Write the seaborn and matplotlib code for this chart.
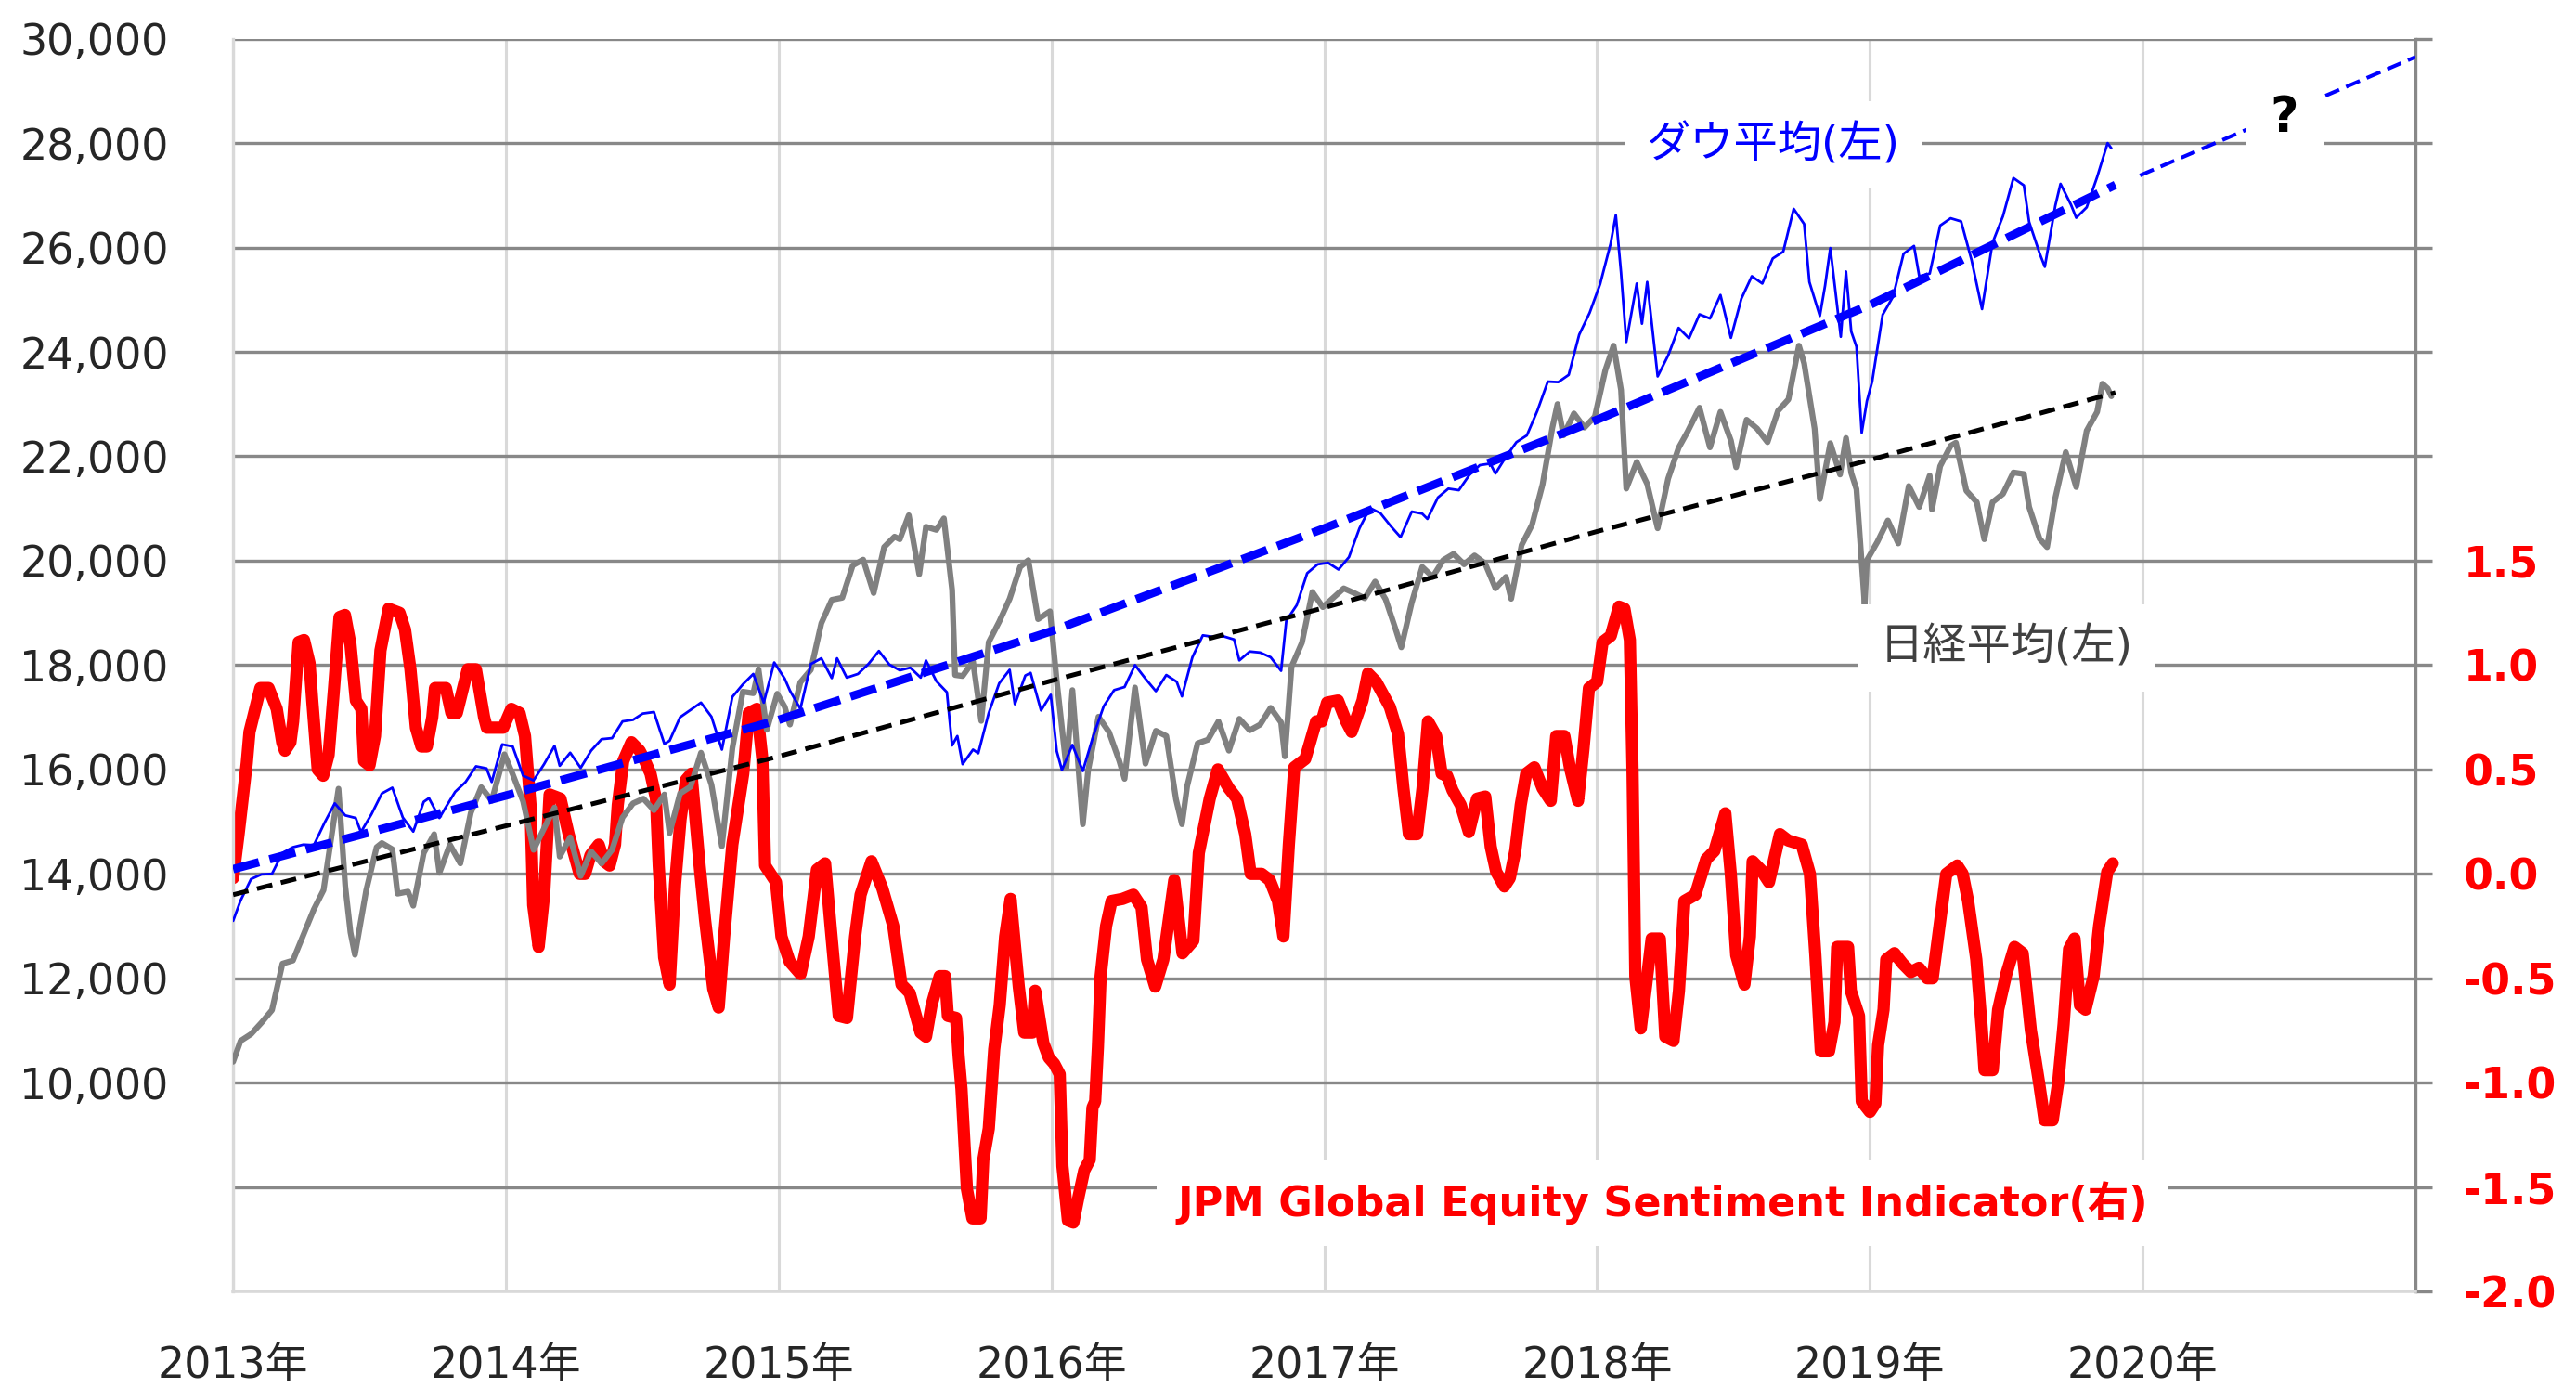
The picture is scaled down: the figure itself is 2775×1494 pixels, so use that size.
import numpy as np
import pandas as pd
import seaborn as sns
import matplotlib.pyplot as plt

sns.set_style("white")
plt.rcParams['font.family'] = ['DejaVu Sans', 'Noto Sans CJK JP']

# ダウ平均(左軸)
dow_dates = [
    "2013-01-01", "2013-01-11", "2013-01-25", "2013-02-08", "2013-02-22", "2013-03-08", "2013-03-22",
    "2013-04-05", "2013-04-19", "2013-05-03", "2013-05-17", "2013-05-31", "2013-06-14", "2013-06-21",
    "2013-07-05", "2013-07-19", "2013-08-02", "2013-08-16", "2013-08-30", "2013-09-13", "2013-09-20",
    "2013-10-04", "2013-10-11", "2013-10-25", "2013-11-08", "2013-11-22", "2013-12-06", "2013-12-13",
    "2013-12-27", "2014-01-10", "2014-01-24", "2014-02-07", "2014-02-21", "2014-03-07", "2014-03-14",
    "2014-03-28", "2014-04-11", "2014-04-25", "2014-05-09", "2014-05-23", "2014-06-06", "2014-06-20",
    "2014-07-03", "2014-07-18", "2014-08-01", "2014-08-08", "2014-08-22", "2014-09-05", "2014-09-19",
    "2014-10-03", "2014-10-17", "2014-10-31", "2014-11-14", "2014-11-28", "2014-12-12", "2014-12-26",
    "2015-01-09", "2015-01-16", "2015-01-30", "2015-02-13", "2015-02-27", "2015-03-13", "2015-03-20",
    "2015-04-02", "2015-04-17", "2015-05-01", "2015-05-15", "2015-05-29", "2015-06-12", "2015-06-26",
    "2015-07-10", "2015-07-17", "2015-07-31", "2015-08-14", "2015-08-21", "2015-08-28", "2015-09-04",
    "2015-09-18", "2015-09-25", "2015-10-09", "2015-10-23", "2015-11-06", "2015-11-13", "2015-11-27",
    "2015-12-04", "2015-12-18", "2015-12-31", "2016-01-08", "2016-01-15", "2016-01-29", "2016-02-12",
    "2016-02-26", "2016-03-11", "2016-03-25", "2016-04-08", "2016-04-22", "2016-05-06", "2016-05-20",
    "2016-06-03", "2016-06-17", "2016-06-24", "2016-07-08", "2016-07-22", "2016-08-05", "2016-08-19",
    "2016-09-02", "2016-09-09", "2016-09-23", "2016-10-07", "2016-10-21", "2016-11-04", "2016-11-11",
    "2016-11-25", "2016-12-09", "2016-12-23", "2017-01-06", "2017-01-20", "2017-02-03", "2017-02-17",
    "2017-03-03", "2017-03-17", "2017-03-31", "2017-04-13", "2017-04-28", "2017-05-12", "2017-05-19",
    "2017-06-02", "2017-06-16", "2017-06-30", "2017-07-14", "2017-07-28", "2017-08-11", "2017-08-18",
    "2017-09-01", "2017-09-15", "2017-09-29", "2017-10-13", "2017-10-27", "2017-11-10", "2017-11-24",
    "2017-12-08", "2017-12-22", "2018-01-05", "2018-01-19", "2018-01-26", "2018-02-02", "2018-02-09",
    "2018-02-23", "2018-03-02", "2018-03-09", "2018-03-23", "2018-04-06", "2018-04-20", "2018-05-04",
    "2018-05-18", "2018-06-01", "2018-06-15", "2018-06-29", "2018-07-13", "2018-07-27", "2018-08-10",
    "2018-08-24", "2018-09-07", "2018-09-21", "2018-10-05", "2018-10-12", "2018-10-26", "2018-11-02",
    "2018-11-09", "2018-11-23", "2018-11-30", "2018-12-07", "2018-12-14", "2018-12-21", "2018-12-28",
    "2019-01-04", "2019-01-18", "2019-02-01", "2019-02-15", "2019-03-01", "2019-03-08", "2019-03-22",
    "2019-04-05", "2019-04-19", "2019-05-03", "2019-05-17", "2019-05-31", "2019-06-14", "2019-06-28",
    "2019-07-12", "2019-07-26", "2019-08-02", "2019-08-16", "2019-08-23", "2019-09-06", "2019-09-13",
    "2019-09-27", "2019-10-04", "2019-10-18", "2019-11-01", "2019-11-15", "2019-11-20",
]
dow_values = [
    13100, 13490, 13900, 13990, 14000, 14400, 14510,
    14560, 14550, 14970, 15350, 15120, 15070, 14800,
    15140, 15540, 15650, 15080, 14810, 15380, 15450,
    15070, 15240, 15570, 15760, 16060, 16020, 15760,
    16480, 16440, 15880, 15790, 16100, 16450, 16070,
    16320, 16030, 16360, 16580, 16600, 16920, 16950,
    17070, 17100, 16490, 16550, 17000, 17140, 17280,
    17010, 16380, 17390, 17630, 17830, 17280, 18050,
    17740, 17510, 17160, 18020, 18130, 17750, 18130,
    17760, 17830, 18020, 18270, 18010, 17900, 17950,
    17760, 18090, 17690, 17480, 16460, 16640, 16100,
    16380, 16310, 17080, 17650, 17910, 17250, 17800,
    17850, 17130, 17430, 16350, 15990, 16470, 15970,
    16640, 17210, 17520, 17580, 18000, 17740, 17500,
    17810, 17680, 17400, 18150, 18570, 18540, 18550,
    18490, 18090, 18260, 18240, 18150, 17890, 18850,
    19150, 19760, 19930, 19960, 19830, 20070, 20620,
    21010, 20910, 20660, 20450, 20940, 20900, 20800,
    21210, 21380, 21350, 21640, 21830, 21860, 21670,
    21990, 22270, 22400, 22870, 23430, 23420, 23560,
    24330, 24750, 25300, 26070, 26620, 25520, 24190,
    25310, 24540, 25340, 23530, 23930, 24460, 24260,
    24720, 24640, 25090, 24270, 25020, 25450, 25310,
    25790, 25920, 26740, 26450, 25340, 24690, 25270,
    25990, 24290, 25540, 24390, 24100, 22450, 23060,
    23430, 24710, 25060, 25880, 26030, 25450, 25500,
    26420, 26560, 26500, 25760, 24820, 26090, 26600,
    27330, 27190, 26490, 25890, 25630, 26800, 27220,
    26820, 26570, 26770, 27350, 28000, 27900,
]

# 日経平均(左軸)
nikkei_dates = [
    "2013-01-01", "2013-01-11", "2013-01-25", "2013-02-08", "2013-02-22", "2013-03-08", "2013-03-22",
    "2013-04-05", "2013-04-19", "2013-05-02", "2013-05-17", "2013-05-22", "2013-05-31", "2013-06-07",
    "2013-06-13", "2013-06-28", "2013-07-12", "2013-07-19", "2013-08-02", "2013-08-09", "2013-08-23",
    "2013-08-30", "2013-09-13", "2013-09-27", "2013-10-04", "2013-10-18", "2013-11-01", "2013-11-15",
    "2013-11-29", "2013-12-13", "2013-12-30", "2014-01-10", "2014-01-24", "2014-02-07", "2014-02-21",
    "2014-03-07", "2014-03-14", "2014-03-28", "2014-04-11", "2014-04-25", "2014-05-09", "2014-05-23",
    "2014-06-06", "2014-06-20", "2014-07-04", "2014-07-18", "2014-08-01", "2014-08-08", "2014-08-22",
    "2014-09-05", "2014-09-19", "2014-10-03", "2014-10-17", "2014-10-31", "2014-11-14", "2014-11-28",
    "2014-12-05", "2014-12-16", "2014-12-30", "2015-01-09", "2015-01-16", "2015-01-30", "2015-02-13",
    "2015-02-27", "2015-03-13", "2015-03-27", "2015-04-10", "2015-04-24", "2015-05-08", "2015-05-22",
    "2015-06-05", "2015-06-12", "2015-06-24", "2015-07-08", "2015-07-17", "2015-07-31", "2015-08-10",
    "2015-08-21", "2015-08-25", "2015-09-04", "2015-09-18", "2015-09-29", "2015-10-09", "2015-10-23",
    "2015-11-06", "2015-11-20", "2015-12-01", "2015-12-14", "2015-12-30", "2016-01-08", "2016-01-21",
    "2016-01-29", "2016-02-12", "2016-02-19", "2016-03-04", "2016-03-18", "2016-04-01", "2016-04-08",
    "2016-04-22", "2016-05-06", "2016-05-20", "2016-06-03", "2016-06-16", "2016-06-24", "2016-07-01",
    "2016-07-15", "2016-07-29", "2016-08-12", "2016-08-26", "2016-09-09", "2016-09-23", "2016-10-07",
    "2016-10-21", "2016-11-04", "2016-11-09", "2016-11-18", "2016-12-02", "2016-12-16", "2016-12-30",
    "2017-01-13", "2017-01-27", "2017-02-10", "2017-02-24", "2017-03-10", "2017-03-24", "2017-04-07",
    "2017-04-14", "2017-04-28", "2017-05-12", "2017-05-26", "2017-06-09", "2017-06-23", "2017-07-07",
    "2017-07-21", "2017-08-04", "2017-08-18", "2017-09-01", "2017-09-08", "2017-09-22", "2017-10-06",
    "2017-10-20", "2017-11-02", "2017-11-09", "2017-11-17", "2017-12-01", "2017-12-15", "2017-12-29",
    "2018-01-12", "2018-01-23", "2018-02-02", "2018-02-09", "2018-02-23", "2018-03-09", "2018-03-23",
    "2018-04-06", "2018-04-20", "2018-05-02", "2018-05-18", "2018-06-01", "2018-06-15", "2018-06-29",
    "2018-07-06", "2018-07-20", "2018-08-03", "2018-08-17", "2018-08-31", "2018-09-14", "2018-09-28",
    "2018-10-05", "2018-10-19", "2018-10-26", "2018-11-09", "2018-11-22", "2018-11-30", "2018-12-07",
    "2018-12-14", "2018-12-25", "2018-12-28", "2019-01-11", "2019-01-25", "2019-02-08", "2019-02-22",
    "2019-03-08", "2019-03-22", "2019-03-25", "2019-04-05", "2019-04-19", "2019-04-26", "2019-05-10",
    "2019-05-24", "2019-06-03", "2019-06-14", "2019-06-28", "2019-07-12", "2019-07-26", "2019-08-02",
    "2019-08-16", "2019-08-26", "2019-09-06", "2019-09-20", "2019-10-04", "2019-10-18", "2019-11-01",
    "2019-11-08", "2019-11-15", "2019-11-20",
]
nikkei_values = [
    10400, 10800, 10930, 11150, 11390, 12280, 12340,
    12830, 13320, 13690, 15140, 15630, 13770, 12880,
    12450, 13680, 14510, 14590, 14470, 13620, 13660,
    13390, 14400, 14760, 14020, 14560, 14200, 15170,
    15660, 15400, 16290, 15910, 15390, 14460, 14870,
    15270, 14330, 14700, 13960, 14430, 14200, 14460,
    15080, 15350, 15440, 15220, 15520, 14780, 15540,
    15670, 16320, 15710, 14530, 16410, 17490, 17460,
    17920, 16760, 17450, 17200, 16860, 17670, 17910,
    18800, 19250, 19290, 19910, 20020, 19380, 20260,
    20460, 20410, 20870, 19740, 20650, 20590, 20810,
    19440, 17810, 17790, 18070, 16930, 18440, 18830,
    19270, 19880, 20010, 18880, 19030, 17700, 16020,
    17520, 14950, 15970, 17010, 16720, 16160, 15820,
    17570, 16110, 16740, 16640, 15430, 14950, 15680,
    16500, 16570, 16920, 16360, 16970, 16750, 16860,
    17180, 16900, 16250, 17970, 18430, 19400, 19110,
    19290, 19470, 19380, 19280, 19600, 19260, 18660,
    18340, 19200, 19880, 19690, 20010, 20130, 19930,
    20100, 19950, 19470, 19690, 19270, 20300, 20690,
    21460, 22540, 23000, 22400, 22820, 22550, 22760,
    23650, 24120, 23270, 21380, 21890, 21470, 20620,
    21570, 22160, 22470, 22930, 22170, 22850, 22300,
    21790, 22700, 22530, 22270, 22870, 23090, 24120,
    23780, 22530, 21180, 22250, 21650, 22350, 21680,
    21370, 19150, 20010, 20360, 20770, 20330, 21430,
    21030, 21630, 20980, 21810, 22200, 22260, 21340,
    21120, 20410, 21120, 21280, 21690, 21660, 21030,
    20420, 20260, 21200, 22080, 21410, 22490, 22850,
    23390, 23300, 23150,
]

# JPM Global Equity Sentiment Indicator(右軸)
jpm_years = [
    2013.00, 2013.02, 2013.05, 2013.06, 2013.10, 2013.13, 2013.16, 2013.18, 2013.19, 2013.21, 2013.22,
    2013.24, 2013.26, 2013.28, 2013.29, 2013.31, 2013.33, 2013.35, 2013.37, 2013.39, 2013.41, 2013.43,
    2013.45, 2013.47, 2013.48, 2013.50, 2013.52, 2013.54, 2013.57, 2013.61, 2013.63, 2013.65, 2013.67,
    2013.69, 2013.71, 2013.73, 2013.74, 2013.78, 2013.80, 2013.82, 2013.86, 2013.89, 2013.92, 2013.93,
    2013.99,
    2014.02, 2014.05, 2014.07, 2014.09, 2014.10, 2014.12, 2014.14, 2014.16, 2014.20, 2014.23, 2014.27,
    2014.29, 2014.31, 2014.34, 2014.36, 2014.38, 2014.40, 2014.41, 2014.43, 2014.46, 2014.49, 2014.51,
    2014.53, 2014.55, 2014.56, 2014.58, 2014.60, 2014.62, 2014.64, 2014.66, 2014.68, 2014.70, 2014.71,
    2014.73, 2014.76, 2014.78, 2014.80, 2014.83, 2014.87, 2014.89, 2014.92, 2014.94, 2014.95, 2014.99,
    2015.01, 2015.04, 2015.08, 2015.11, 2015.14, 2015.17, 2015.19, 2015.22, 2015.25, 2015.28, 2015.30,
    2015.34, 2015.38, 2015.42, 2015.45, 2015.48, 2015.52, 2015.54, 2015.56, 2015.59, 2015.61, 2015.62,
    2015.65, 2015.66, 2015.67, 2015.69, 2015.71, 2015.74, 2015.75, 2015.77, 2015.78, 2015.79, 2015.81,
    2015.83, 2015.85, 2015.88, 2015.90, 2015.93, 2015.94, 2015.97, 2015.99,
    2016.01, 2016.03, 2016.04, 2016.06, 2016.08, 2016.10, 2016.12, 2016.14, 2016.15, 2016.16, 2016.17,
    2016.18, 2016.20, 2016.22, 2016.26, 2016.30, 2016.33, 2016.35, 2016.38, 2016.41, 2016.45, 2016.48,
    2016.52, 2016.54, 2016.58, 2016.61, 2016.65, 2016.68, 2016.71, 2016.73, 2016.77, 2016.80, 2016.83,
    2016.85, 2016.87, 2016.89, 2016.93, 2016.97, 2016.99,
    2017.01, 2017.05, 2017.08, 2017.10, 2017.14, 2017.16, 2017.19, 2017.24, 2017.27, 2017.29, 2017.31,
    2017.34, 2017.36, 2017.38, 2017.41, 2017.43, 2017.45, 2017.47, 2017.50, 2017.53, 2017.56, 2017.59,
    2017.61, 2017.63, 2017.66, 2017.68, 2017.70, 2017.72, 2017.74, 2017.77, 2017.80, 2017.83, 2017.85,
    2017.88, 2017.90, 2017.93, 2017.95, 2017.97,
    2018.00, 2018.02, 2018.05, 2018.08, 2018.10, 2018.12, 2018.13, 2018.14, 2018.16, 2018.18, 2018.20,
    2018.23, 2018.25, 2018.28, 2018.30, 2018.32, 2018.36, 2018.40, 2018.43, 2018.47, 2018.49, 2018.51,
    2018.54, 2018.56, 2018.57, 2018.60, 2018.63, 2018.67, 2018.70, 2018.75, 2018.78, 2018.80, 2018.82,
    2018.85, 2018.87, 2018.88, 2018.92, 2018.93, 2018.96, 2018.97,
    2019.00, 2019.02, 2019.03, 2019.05, 2019.06, 2019.09, 2019.12, 2019.15, 2019.18, 2019.21, 2019.23,
    2019.26, 2019.28, 2019.32, 2019.34, 2019.36, 2019.39, 2019.41, 2019.42, 2019.45, 2019.47, 2019.50,
    2019.53, 2019.56, 2019.59, 2019.62, 2019.64, 2019.67, 2019.69, 2019.71, 2019.73, 2019.75, 2019.77,
    2019.79, 2019.82, 2019.84, 2019.87, 2019.89,
]
jpm_values = [
    -0.02, 0.19, 0.53, 0.68, 0.89, 0.89, 0.79, 0.63, 0.59, 0.63, 0.73,
    1.11, 1.12, 1.01, 0.83, 0.50, 0.47, 0.57, 0.89, 1.23, 1.24, 1.10,
    0.83, 0.79, 0.54, 0.52, 0.66, 1.07, 1.27, 1.25, 1.17, 0.98, 0.70,
    0.61, 0.61, 0.75, 0.89, 0.89, 0.77, 0.77, 0.98, 0.98, 0.75, 0.70,
    0.70,
    0.79, 0.77, 0.66, 0.33, -0.15, -0.35, -0.10, 0.38, 0.36, 0.19, 0.00,
    0.00, 0.09, 0.14, 0.06, 0.04, 0.14, 0.33, 0.54, 0.63, 0.59, 0.54,
    0.48, 0.36, 0.04, -0.40, -0.53, -0.05, 0.26, 0.45, 0.48, 0.19, 0.04,
    -0.22, -0.55, -0.64, -0.30, 0.14, 0.48, 0.77, 0.79, 0.55, 0.04, -0.04,
    -0.30, -0.42, -0.48, -0.30, 0.02, 0.05, -0.25, -0.68, -0.69, -0.30, -0.10,
    0.06, -0.07, -0.25, -0.53, -0.57, -0.76, -0.78, -0.63, -0.49, -0.49, -0.68,
    -0.69, -0.88, -1.03, -1.51, -1.65, -1.65, -1.37, -1.22, -1.03, -0.84, -0.63,
    -0.30, -0.12, -0.54, -0.76, -0.76, -0.56, -0.81, -0.88,
    -0.91, -0.96, -1.40, -1.66, -1.67, -1.54, -1.42, -1.37, -1.12, -1.09, -0.83,
    -0.49, -0.25, -0.13, -0.12, -0.10, -0.16, -0.41, -0.54, -0.41, -0.03, -0.38,
    -0.32, 0.10, 0.36, 0.50, 0.41, 0.36, 0.19, 0.00, 0.00, -0.03, -0.13,
    -0.30, 0.14, 0.51, 0.55, 0.73, 0.73,
    0.82, 0.83, 0.73, 0.68, 0.83, 0.96, 0.92, 0.80, 0.67, 0.41, 0.19,
    0.19, 0.41, 0.73, 0.66, 0.48, 0.47, 0.40, 0.33, 0.20, 0.36, 0.37,
    0.13, 0.01, -0.06, -0.02, 0.11, 0.33, 0.48, 0.51, 0.41, 0.35, 0.66,
    0.66, 0.51, 0.35, 0.60, 0.89,
    0.92, 1.11, 1.14, 1.28, 1.27, 1.12, 0.48, -0.49, -0.74, -0.53, -0.31,
    -0.31, -0.78, -0.80, -0.56, -0.13, -0.10, 0.07, 0.11, 0.29, 0.00, -0.39,
    -0.53, -0.30, 0.06, 0.02, -0.04, 0.19, 0.16, 0.14, 0.00, -0.39, -0.85,
    -0.85, -0.71, -0.35, -0.35, -0.56, -0.68, -1.09,
    -1.14, -1.10, -0.82, -0.65, -0.41, -0.38, -0.43, -0.47, -0.45, -0.50, -0.50,
    -0.20, 0.00, 0.04, 0.00, -0.13, -0.41, -0.74, -0.94, -0.94, -0.65, -0.48,
    -0.35, -0.38, -0.75, -1.00, -1.18, -1.18, -1.00, -0.72, -0.36, -0.31, -0.63,
    -0.65, -0.49, -0.25, 0.01, 0.05,
]

# トレンド線
dow_trend_years = [2013.0, 2014.0, 2015.0, 2016.0, 2017.0, 2018.0, 2019.0, 2019.9]
dow_trend_values = [14090, 15500, 16950, 18650, 20620, 22700, 24900, 27200]
dow_ext_years = [2019.99, 2021.0]
dow_ext_values = [27380, 29650]
nikkei_trend_years = [2013.0, 2014.0, 2015.0, 2016.0, 2017.0, 2018.0, 2019.0, 2019.9]
nikkei_trend_values = [13600, 14920, 16250, 17700, 19100, 20560, 21930, 23220]

years = list(range(2013, 2022))
year_labels = [f"{y}年" for y in years[:-1]] + [""]
left_ticks = list(range(8000, 30001, 2000))
left_labels = ["" if v < 10000 else f"{v:,}" for v in left_ticks]
right_ticks = list(np.arange(-2.0, 4.01, 0.5))
right_labels = [f"{v:.1f}" if v <= 1.5 else "" for v in right_ticks]


def to_year(dates):
    d = pd.to_datetime(pd.Series(dates))
    return (d.dt.year + (d.dt.dayofyear - 1) / (365 + d.dt.is_leap_year.astype(int))).values


FS = 33
fig = plt.figure(figsize=(27.75, 14.94), dpi=100)
ax = fig.add_axes([0.0905, 0.0689, 0.8472, 0.9032])   # 右軸 + グリッド + JPM
axl = ax.twinx()                                         # 左軸 (株価)
axl.yaxis.tick_left()
axl.yaxis.set_label_position("left")

# JPM指標(赤) は下のaxesへ
sns.lineplot(x=jpm_years, y=jpm_values, ax=ax, color="#ff0000", linewidth=9.5)

sns.lineplot(x=to_year(nikkei_dates), y=nikkei_values, ax=axl, color="#808080", linewidth=4.5)
sns.lineplot(x=to_year(dow_dates), y=dow_values, ax=axl, color="#0000ff", linewidth=2)

sns.lineplot(x=dow_trend_years, y=dow_trend_values, ax=axl, color="#0000ff", linewidth=6.5)
axl.lines[-1].set_dashes([3.2, 1.3])
sns.lineplot(x=dow_ext_years, y=dow_ext_values, ax=axl, color="#0000ff", linewidth=2.9)
axl.lines[-1].set_dashes([4, 2])
sns.lineplot(x=nikkei_trend_years, y=nikkei_trend_values, ax=axl, color="#000000", linewidth=3.6)
axl.lines[-1].set_dashes([3.4, 1.9])

ax.set_xlim(2013, 2021)
ax.set_ylim(-2, 4)
axl.set_ylim(6000, 30000)

ax.set_xticks(years)
ax.set_xticklabels(year_labels, fontsize=FS)
ax.yaxis.tick_right()
ax.set_yticks(right_ticks)
ax.set_yticklabels(right_labels, fontsize=FS, color="#ff0000", fontweight="bold")
axl.set_yticks(left_ticks)
axl.set_yticklabels(left_labels, fontsize=FS)

ax.tick_params(axis="x", length=0, pad=42)
ax.tick_params(axis="y", direction="out", length=13, width=2.4, color="#888888", pad=24)
axl.tick_params(axis="y", length=0, pad=50)

ax.grid(axis="y", color="#888888", linewidth=2.4)
ax.grid(axis="x", color="#d9d9d9", linewidth=2.2)
ax.set_axisbelow(True)

ax.spines["top"].set_visible(False)
ax.spines["left"].set_color("#d9d9d9")
ax.spines["left"].set_linewidth(2.4)
ax.spines["bottom"].set_color("#d9d9d9")
ax.spines["bottom"].set_linewidth(2.6)
ax.spines["right"].set_color("#888888")
ax.spines["right"].set_linewidth(2.4)
for s in axl.spines.values():
    s.set_visible(False)

for a in (ax, axl):
    a.set_xlabel("")
    a.set_ylabel("")

box = dict(boxstyle="square,pad=0.5", facecolor="white", edgecolor="none")
axl.text(2018.645, 27965, "ダウ平均(左)", color="#0000ff", fontsize=34,
         ha="center", va="center", bbox=box, zorder=10)
axl.text(2019.50, 18330, "日経平均(左)", color="#404040", fontsize=34,
         ha="center", va="center", bbox=box, zorder=10)
axl.text(2018.24, 7690, "JPM Global Equity Sentiment Indicator(右)", color="#ff0000",
         fontsize=32, fontweight="bold", ha="center", va="center", bbox=box, zorder=10)
axl.text(2020.52, 28480, "?", color="black", fontsize=38, fontweight="bold",
         ha="center", va="center", bbox=box, zorder=10)

fig.savefig("out.png", dpi=100)
